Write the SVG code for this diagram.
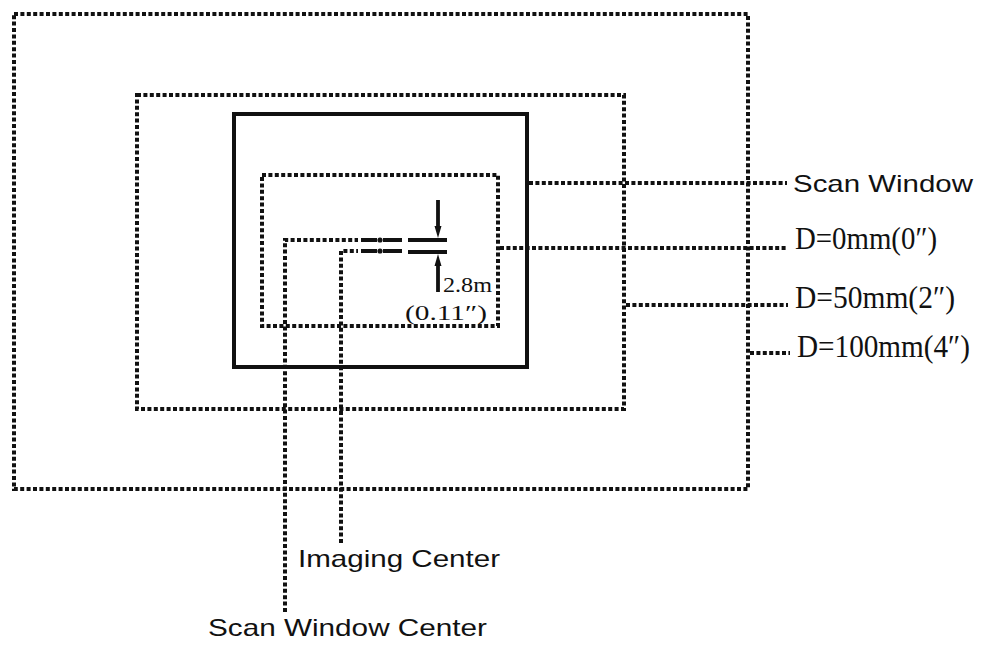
<svg xmlns="http://www.w3.org/2000/svg" width="985" height="653" viewBox="0 0 985 653">
<style>
.dot{fill:none;stroke:#111;stroke-width:4;stroke-dasharray:4 2.4}
.solid{fill:none;stroke:#111;stroke-width:4}
.bar{fill:none;stroke:#111;stroke-width:3.8}
.sans{font-family:"Liberation Sans",Arial,sans-serif;font-size:24px;fill:#111}
.serif{font-family:"Liberation Serif","Times New Roman",serif;fill:#111}
</style>
<rect width="985" height="653" fill="#fff"/>
<g id="range-100mm"><rect class="dot" x="14" y="14" width="734" height="475"/></g>
<g id="range-50mm"><rect class="dot" x="137" y="95" width="487" height="314"/></g>
<g id="scan-window"><rect class="solid" x="234" y="114" width="293" height="253"/></g>
<g id="range-0mm"><rect class="dot" x="262" y="175" width="236" height="151"/></g>
<g id="connectors">
<path class="dot" d="M285,612 V240 H358"/>
<path class="dot" d="M341,543 V251 H358"/>
<path class="bar" d="M361,240 H377 M383,240 H402 M361,251 H377 M383,251 H402"/>
<circle cx="380" cy="240" r="2.6" fill="#111"/>
<circle cx="380" cy="251" r="2.6" fill="#111"/>
<path class="bar" d="M408,240 H447 M408,252 H447"/>
<path class="bar" d="M438,200 V228 M438,264 V292"/>
<polygon points="434.5,226 441.5,226 438,238" fill="#111"/>
<polygon points="434.5,266 441.5,266 438,254" fill="#111"/>
<path class="dot" d="M529,183 H787"/>
<path class="dot" d="M500,248 H788"/>
<path class="dot" d="M626,305 H788"/>
<path class="dot" d="M750,353 H790"/>
</g>
<g id="labels">
<text class="serif" x="443" y="292" font-size="22" textLength="49" lengthAdjust="spacingAndGlyphs">2.8m</text>
<text class="serif" x="405" y="320" font-size="22" textLength="82" lengthAdjust="spacingAndGlyphs">(0.11″)</text>
<text class="sans" x="793" y="192" textLength="180" lengthAdjust="spacingAndGlyphs">Scan Window</text>
<text class="serif" x="795" y="249" font-size="31" textLength="142" lengthAdjust="spacingAndGlyphs">D=0mm(0″)</text>
<text class="serif" x="795" y="308" font-size="31" textLength="160" lengthAdjust="spacingAndGlyphs">D=50mm(2″)</text>
<text class="serif" x="797" y="357" font-size="31" textLength="173" lengthAdjust="spacingAndGlyphs">D=100mm(4″)</text>
<text class="sans" x="298" y="567" textLength="202" lengthAdjust="spacingAndGlyphs">Imaging Center</text>
<text class="sans" x="208" y="636" textLength="279" lengthAdjust="spacingAndGlyphs">Scan Window Center</text>
</g>
</svg>
